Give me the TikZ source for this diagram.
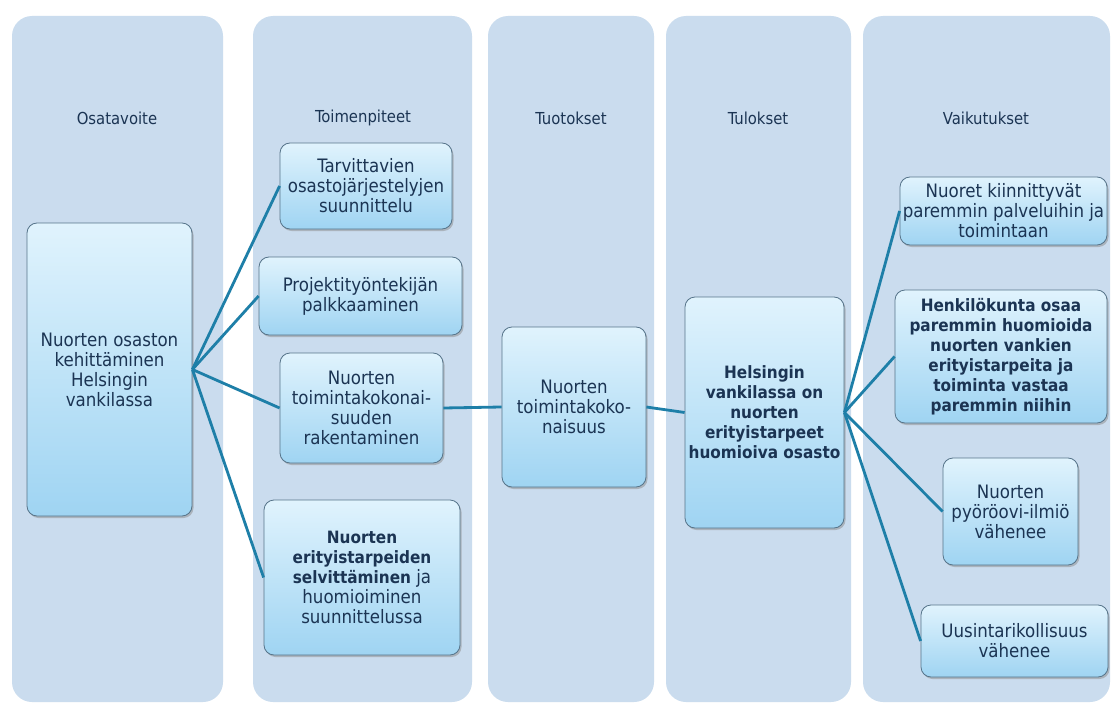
\documentclass[tikz,border=0pt]{standalone}
\usepackage{fontspec}
\setmainfont{DejaVu Sans Condensed}
\usetikzlibrary{shadows}
\definecolor{panel}{HTML}{CADCEE}
\definecolor{btop}{HTML}{E0F3FD}
\definecolor{bbot}{HTML}{9FD4F2}
\definecolor{bord}{HTML}{56748A}
\definecolor{txt}{HTML}{1B3453}
\definecolor{conn}{HTML}{1E7FA8}
\newcommand\bsm[1]{{\bfseries\fontsize{17}{20}\selectfont #1}}
\tikzset{
  panelbox/.style={draw=none, fill=panel, rounded corners=20pt, inner sep=0pt},
  head/.style={text=txt, font=\fontsize{16.5}{19}\selectfont},
  item/.style={draw=bord, line width=0.8pt, rounded corners=10pt,
    top color=btop, bottom color=bbot, text=txt, align=center, inner sep=1pt,
    font=\fontsize{18.5}{20}\selectfont,
    drop shadow={shadow xshift=1.5pt, shadow yshift=-2pt, fill=black!45, opacity=0.5}},
  bolditem/.style={item, font=\bfseries\fontsize{17}{20}\selectfont},
  link/.style={draw=conn, line width=2.8pt},
}
\begin{document}
\begin{tikzpicture}[x=1pt,y=-1pt]
\useasboundingbox[fill=white] (0,0) rectangle (1117,706);
% panels
\node[panelbox, minimum width=211pt, minimum height=686pt] (p1) at (117.5,359) {};
\node[panelbox, minimum width=219pt, minimum height=686pt] (p2) at (362.5,359) {};
\node[panelbox, minimum width=166pt, minimum height=686pt] (p3) at (571,359) {};
\node[panelbox, minimum width=185pt, minimum height=686pt] (p4) at (758.5,359) {};
\node[panelbox, minimum width=247pt, minimum height=686pt] (p5) at (986.5,359) {};
% headers
\node[head] (h1) at (117,118) {Osatavoite};
\node[head] (h2) at (363,118) {Toimenpiteet};
\node[head] (h3) at (571,118) {Tuotokset};
\node[head] (h4) at (758,118) {Tulokset};
\node[head] (h5) at (986,118) {Vaikutukset};
% items
\node[item, minimum width=165pt, minimum height=293pt] (goal) at (109.5,369.5)
  {Nuorten osaston\\kehittäminen\\Helsingin\\vankilassa};
\node[item, minimum width=172pt, minimum height=86pt] (a1) at (366,186)
  {Tarvittavien\\osastojärjestelyjen\\suunnittelu};
\node[item, minimum width=203pt, minimum height=78pt] (a2) at (360.5,296)
  {Projektityöntekijän\\palkkaaminen};
\node[item, minimum width=163pt, minimum height=110pt] (a3) at (361.5,408)
  {Nuorten\\toimintakokonai-\\suuden\\rakentaminen};
\node[item, minimum width=196pt, minimum height=155pt] (a4) at (362,577.5)
  {\bsm{Nuorten}\\\bsm{erityistarpeiden}\\\bsm{selvittäminen} ja\\huomioiminen\\suunnittelussa};
\node[item, minimum width=144pt, minimum height=160pt] (o1) at (574,407)
  {Nuorten\\toimintakoko-\\naisuus};
\node[bolditem, minimum width=159pt, minimum height=231pt] (r1) at (764.5,412.5)
  {Helsingin\\vankilassa on\\nuorten\\erityistarpeet\\huomioiva osasto};
\node[item, minimum width=207pt, minimum height=68pt] (i1) at (1003.5,211)
  {Nuoret kiinnittyvät\\paremmin palveluihin ja\\toimintaan};
\node[bolditem, minimum width=212pt, minimum height=133pt] (i2) at (1001,356.5)
  {Henkilökunta osaa\\paremmin huomioida\\nuorten vankien\\erityistarpeita ja\\toiminta vastaa\\paremmin niihin};
\node[item, minimum width=135pt, minimum height=107pt] (i3) at (1010.5,511.5)
  {Nuorten\\pyöröovi-ilmiö\\vähenee};
\node[item, minimum width=187pt, minimum height=72pt] (i4) at (1014.5,641)
  {Uusintarikollisuus\\vähenee};
% connectors
\foreach \t in {a1,a2,a3,a4} \draw[link] (goal.east) -- (\t.west);
\draw[link] (a3.east) -- (o1.west);
\draw[link] (o1.east) -- (r1.west);
\foreach \t in {i1,i2,i3,i4} \draw[link] (r1.east) -- (\t.west);
\end{tikzpicture}
\end{document}
